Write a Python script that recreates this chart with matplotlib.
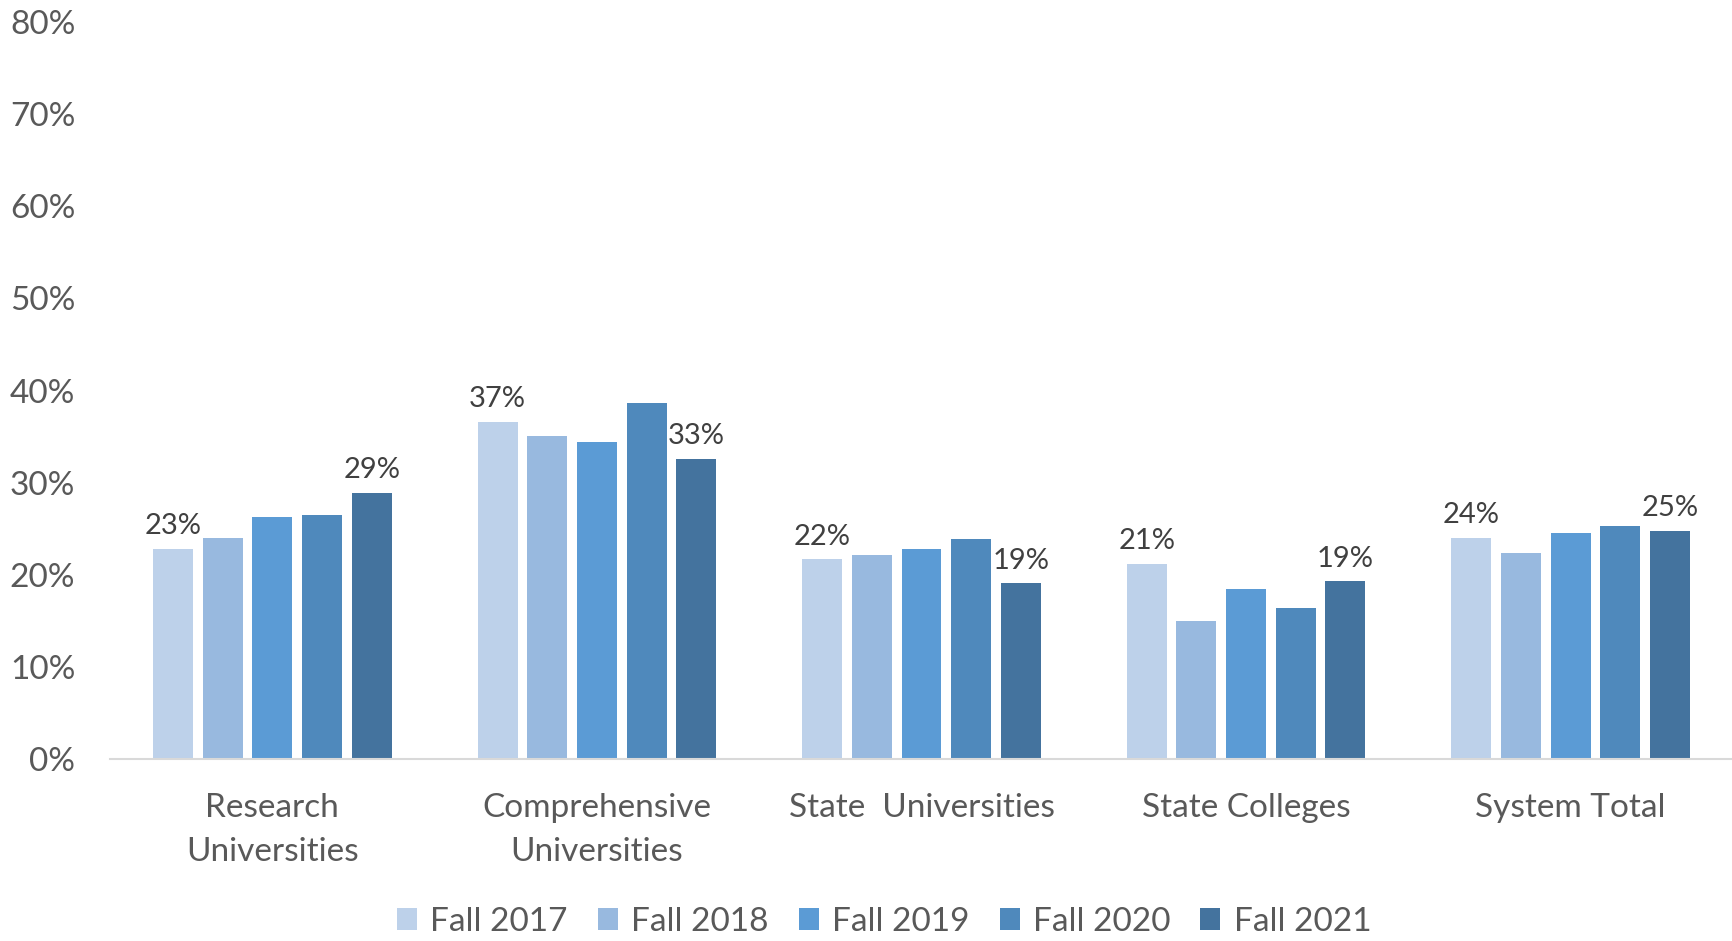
import matplotlib.pyplot as plt
import numpy as np

plt.rcParams['font.family'] = ['Lato', 'DejaVu Sans']

categories = ['Research\nUniversities', 'Comprehensive\nUniversities', 'State  Universities',
              'State Colleges', 'System Total']
years = ['Fall 2017', 'Fall 2018', 'Fall 2019', 'Fall 2020', 'Fall 2021']
fall2017 = [22.8, 36.6, 21.7, 21.2, 24.0]
fall2018 = [24.0, 35.1, 22.2, 15.0, 22.4]
fall2019 = [26.3, 34.4, 22.8, 18.5, 24.5]
fall2020 = [26.5, 38.6, 23.9, 16.4, 25.3]
fall2021 = [28.9, 32.6, 19.1, 19.3, 24.8]
colors = ['#BDD1EA', '#98B9DF', '#5B9BD5', '#4F89BC', '#44739E']

series = [fall2017, fall2018, fall2019, fall2020, fall2021]

fig = plt.figure(figsize=(17.33, 9.41), dpi=100)
ax = fig.add_axes([0.0635, 0.193, 0.9365, 0.784])

x = np.arange(len(categories))
width = 0.123
pitch = 0.153
for i, (vals, name) in enumerate(zip(series, years)):
    pos = x + (i - 2) * pitch
    bars = ax.bar(pos, vals, width, color=colors[i], label=name, zorder=2)
    # only first and last year get labels
    if i in (0, 4):
        for b, v in zip(bars, vals):
            ax.annotate(f'{int(v + 0.5)}%', (b.get_x() + b.get_width() / 2, v),
                        xytext=(0, 7), textcoords='offset points',
                        ha='center', va='bottom', fontsize=21, color='#404040')

ax.set_xlim(-0.5, len(categories) - 0.5)
ax.set_ylim(0, 80)
ax.set_yticks(range(0, 81, 10))
ax.set_yticklabels([f'{t}%' for t in range(0, 81, 10)])
ax.set_xticks(x)
ax.set_xticklabels(categories, linespacing=1.6)
ax.tick_params(axis='y', length=0, pad=25, labelsize=24, labelcolor='#595959')
ax.tick_params(axis='x', length=0, pad=24, labelsize=24, labelcolor='#595959')
for s in ['top', 'right', 'left']:
    ax.spines[s].set_visible(False)
ax.spines['bottom'].set_color('#D9D9D9')
ax.spines['bottom'].set_linewidth(1.5)

ax.legend(loc='center', bbox_to_anchor=(0.477, -0.22), ncol=5, frameon=False,
          fontsize=24, labelcolor='#595959', handlelength=0.6, handleheight=0.6,
          handletextpad=0.4, columnspacing=0.9)

fig.savefig('out.png', dpi=100)
